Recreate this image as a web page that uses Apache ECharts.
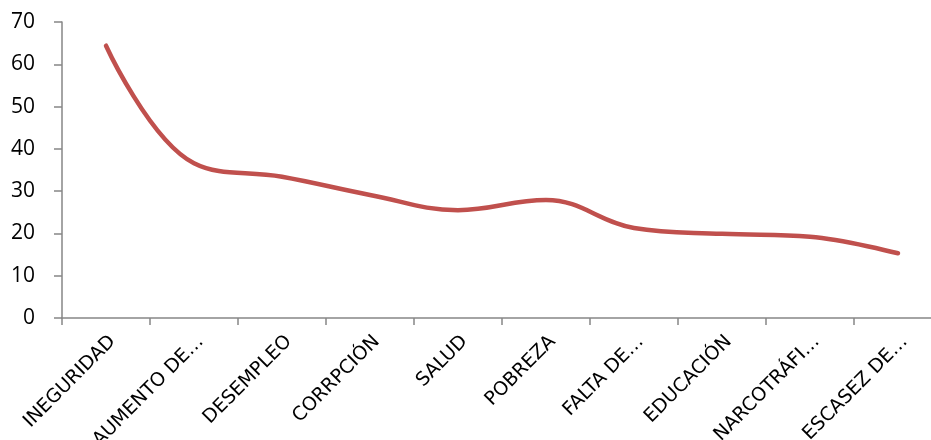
<!DOCTYPE html>
<html>
<head>
<meta charset="utf-8">
<script src="https://cdn.jsdelivr.net/npm/echarts@6/dist/echarts.min.js"></script>
<style>
  html, body { margin: 0; padding: 0; background: #fff; overflow: hidden; }
  #chart { width: 931px; height: 440px; }
</style>
</head>
<body>
<div id="chart"></div>
<script>
// Problemas señalados (porcentaje)
const categories = [
  'INEGURIDAD', 'AUMENTO DE…', 'DESEMPLEO', 'CORRPCIÓN', 'SALUD',
  'POBREZA', 'FALTA DE…', 'EDUCACIÓN', 'NARCOTRÁFI…', 'ESCASEZ DE…'
];
const values = [64.4, 36.6, 33.4, 29.1, 25.5, 27.9, 21.3, 19.9, 19.2, 15.3];
const yTicks = { min: 0, max: 70, step: 10 };

const chart = echarts.init(document.getElementById('chart'), null, { renderer: 'canvas' });

const axisGray = '#868686';

chart.setOption({
  animation: false,
  backgroundColor: '#ffffff',
  // the plot runs slightly past the right edge of the canvas
  grid: {
    left: 62, width: 880, top: 22, bottom: 122,
    containLabel: false,
    outerBoundsMode: 'none'
  },
  xAxis: {
    type: 'category',
    data: categories,
    boundaryGap: true,
    axisLine: { lineStyle: { color: axisGray, width: 1.5 } },
    axisTick: { show: true, length: 7, alignWithLabel: false, lineStyle: { color: axisGray, width: 1.5 } },
    axisLabel: {
      rotate: 45,
      interval: 0,
      margin: 14,
      verticalAlign: 'top',
      color: '#000',
      fontFamily: '"DejaVu Sans", sans-serif',
      fontSize: 19
    },
    splitLine: { show: false }
  },
  yAxis: {
    type: 'value',
    min: yTicks.min,
    max: yTicks.max,
    interval: yTicks.step,
    axisLine: { show: true, lineStyle: { color: axisGray, width: 1.5 } },
    axisTick: { show: true, length: 8, lineStyle: { color: axisGray, width: 1.5 } },
    axisLabel: {
      margin: 27,
      color: '#000',
      fontFamily: '"Open Sans", "Liberation Sans", sans-serif',
      fontSize: 21
    },
    splitLine: { show: false }
  },
  series: [{
    type: 'line',
    data: values,
    smooth: 0.4,
    symbol: 'none',
    lineStyle: { color: '#C0504D', width: 4.5, cap: 'round', join: 'round' }
  }]
});
</script>
</body>
</html>
